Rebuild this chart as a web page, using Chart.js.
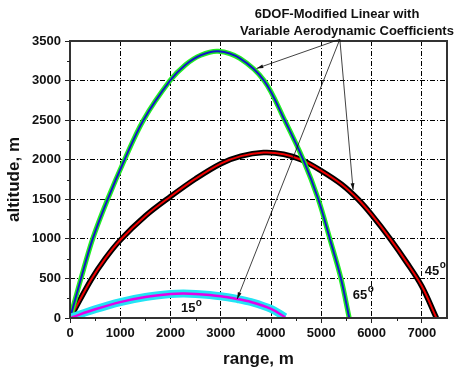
<!DOCTYPE html>
<html>
<head>
<meta charset="utf-8">
<script src="https://cdn.jsdelivr.net/npm/chart.js@4"></script>
<style>
  html, body { margin: 0; padding: 0; background: #fff; }
  #wrap { width: 458px; height: 372px; }
</style>
</head>
<body>
<div id="wrap"><canvas id="traj" width="458" height="372"></canvas></div>
<script>
// trajectory data (range m, altitude m)
const range65 = [20, 219, 451, 749, 1085, 1460, 1990, 2300, 2600, 2950, 3380, 3860, 4270, 4640, 4940, 5170, 5390, 5555];
const alt65   = [42, 500, 1000, 1500, 2000, 2500, 3000, 3200, 3320, 3370, 3280, 3000, 2500, 2000, 1500, 1000, 500, 0];

const range45 = [50, 417, 700, 1000, 1500, 2000, 2500, 3000, 3400, 3850, 4250, 4600, 5000, 5400, 5730, 6000, 6370, 6700, 7000, 7290];
const alt45   = [55, 480, 750, 985, 1290, 1535, 1760, 1950, 2045, 2090, 2070, 2000, 1860, 1690, 1500, 1305, 1000, 700, 400, 0];

const range15 = [30, 500, 1000, 1500, 2000, 2250, 2500, 3000, 3330, 3600, 4000, 4280];
const alt15   = [8, 110, 201, 265, 302, 308, 303, 275, 240, 202, 115, 10];

const rangeTicks = [0, 1000, 2000, 3000, 4000, 5000, 6000, 7000];
const altTicks = [0, 500, 1000, 1500, 2000, 2500, 3000, 3500];

// angle labels, placed in data units
const angleLabels = [
    { text: '15', x: 2350, y: 115 },
    { text: '65', x: 5770, y: 290 },
    { text: '45', x: 7200, y: 590 }
];

// annotation arrows: one origin, three targets (data units)
const arrowFrom = { x: 5368, y: 3522 };
const arrowTargets = [
    { x: 3712, y: 3153 },
    { x: 3326, y: 240 },
    { x: 5632, y: 1618 }
];

const FONT = "'Liberation Sans', Arial, sans-serif";

function pts(xs, ys) {
    return xs.map((x, i) => ({ x: x, y: ys[i] }));
}

function curve(xs, ys, color, width) {
    return {
        data: pts(xs, ys),
        showLine: true,
        borderColor: color,
        backgroundColor: color,
        borderWidth: width,
        pointRadius: 0,
        tension: 0.35,
        borderCapStyle: 'butt',
        borderJoinStyle: 'round'
    };
}

const decorPlugin = {
    id: 'decor',
    afterDatasetsDraw(chart) {
        const ctx = chart.ctx;
        const xs = chart.scales.x;
        const ys = chart.scales.y;
        const area = chart.chartArea;

        ctx.save();
        // axis box
        ctx.strokeStyle = '#333';
        ctx.lineWidth = 2;
        ctx.strokeRect(area.left, area.top, area.right - area.left, area.bottom - area.top);

        // minor ticks
        ctx.lineWidth = 1;
        ctx.strokeStyle = '#222';
        ctx.beginPath();
        for (let v = 500; v < 7500; v += 1000) {
            const px = Math.round(xs.getPixelForValue(v)) + 0.5;
            ctx.moveTo(px, area.bottom);
            ctx.lineTo(px, area.bottom + 3);
        }
        for (let v = 250; v < 3500; v += 500) {
            const py = Math.round(ys.getPixelForValue(v)) + 0.5;
            ctx.moveTo(area.left - 3, py);
            ctx.lineTo(area.left, py);
        }
        ctx.stroke();

        // angle labels with superscript degree
        ctx.fillStyle = '#111';
        ctx.textBaseline = 'middle';
        ctx.textAlign = 'left';
        angleLabels.forEach(l => {
            const px = xs.getPixelForValue(l.x);
            const py = ys.getPixelForValue(l.y);
            ctx.font = 'bold 13px ' + FONT;
            const w = ctx.measureText(l.text).width;
            ctx.fillText(l.text, px - w / 2, py);
            ctx.font = 'bold 10px ' + FONT;
            ctx.fillText('o', px + w / 2 + 0.5, py - 6);
        });

        // arrows
        const ox = xs.getPixelForValue(arrowFrom.x);
        const oy = ys.getPixelForValue(arrowFrom.y);
        ctx.strokeStyle = '#111';
        ctx.lineWidth = 0.8;
        arrowTargets.forEach(t => {
            const tx = xs.getPixelForValue(t.x);
            const ty = ys.getPixelForValue(t.y);
            ctx.beginPath();
            ctx.moveTo(ox, oy);
            ctx.lineTo(tx, ty);
            ctx.stroke();
            const a = Math.atan2(ty - oy, tx - ox);
            const len = 7, half = 0.28;
            ctx.beginPath();
            ctx.moveTo(tx, ty);
            ctx.lineTo(tx - len * Math.cos(a - half), ty - len * Math.sin(a - half));
            ctx.lineTo(tx - len * Math.cos(a + half), ty - len * Math.sin(a + half));
            ctx.closePath();
            ctx.fill();
        });

        // annotation text
        ctx.font = 'bold 13px ' + FONT;
        ctx.textAlign = 'center';
        ctx.fillText('6DOF-Modified Linear with', 337, 14);
        ctx.fillText('Variable Aerodynamic Coefficients', 347, 31);
        ctx.restore();
    }
};

new Chart(document.getElementById('traj'), {
    type: 'scatter',
    data: {
        datasets: [
            curve(range15, alt15, '#e600e6', 2.5),
            curve(range15, alt15, '#22e4f4', 8),
            curve(range65, alt65, '#1515c8', 2),
            curve(range65, alt65, '#22ee22', 5),
            curve(range45, alt45, '#ee0000', 2),
            curve(range45, alt45, '#000000', 5.5)
        ]
    },
    options: {
        responsive: false,
        animation: false,
        devicePixelRatio: 1,
        layout: { padding: { top: 41, right: 11, left: 0, bottom: 0 } },
        plugins: {
            legend: { display: false },
            tooltip: { enabled: false }
        },
        scales: {
            x: {
                type: 'linear',
                min: 0,
                max: 7500,
                afterFit: s => { s.height = 54; },
                afterBuildTicks: s => { s.ticks = rangeTicks.map(v => ({ value: v })); },
                ticks: {
                    color: '#111',
                    padding: 3,
                    maxRotation: 0,
                    callback: v => String(v),
                    font: { family: FONT, size: 13, weight: 'bold' }
                },
                grid: {
                    color: '#000',
                    lineWidth: 1,
                    tickLength: 5,
                    tickColor: '#222'
                },
                border: { display: false, dash: [5, 2, 1, 2] },
                title: {
                    display: true,
                    text: 'range, m',
                    color: '#111',
                    padding: { top: 4, bottom: 2 },
                    font: { family: FONT, size: 17, weight: 'bold' }
                }
            },
            y: {
                type: 'linear',
                min: 0,
                max: 3500,
                afterFit: s => { s.width = 70; },
                afterBuildTicks: s => { s.ticks = altTicks.map(v => ({ value: v })); },
                ticks: {
                    color: '#111',
                    padding: 4,
                    callback: v => String(v),
                    font: { family: FONT, size: 13, weight: 'bold' }
                },
                grid: {
                    color: '#000',
                    lineWidth: 1,
                    tickLength: 5,
                    tickColor: '#222'
                },
                border: { display: false, dash: [5, 2, 1, 2] },
                title: {
                    display: true,
                    text: 'altitude, m',
                    color: '#111',
                    padding: { top: 4, bottom: 4 },
                    font: { family: FONT, size: 17, weight: 'bold' }
                }
            }
        }
    },
    plugins: [decorPlugin]
});
</script>
</body>
</html>
